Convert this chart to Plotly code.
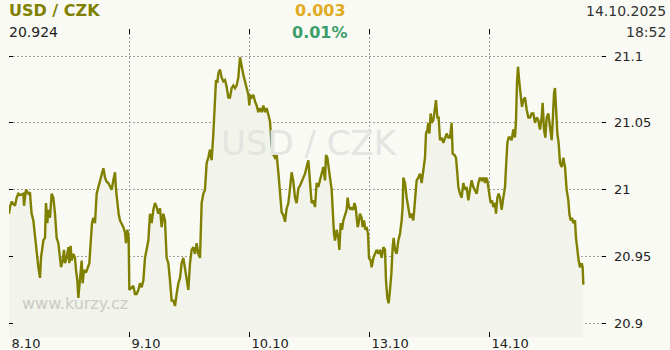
import plotly.graph_objects as go

# hours since 8.10 00:00 (trading days only, 24 h per day)
hours = [
 0, 0.2, 0.53, 1.2, 1.53, 1.87, 2.2, 2.87, 3.0, 3.4, 3.87, 4.2, 4.33, 4.53, 4.87, 5.2, 5.4, 5.67, 5.87, 6.2,
 6.4, 6.67, 6.87, 7.2, 7.4, 7.67, 7.87, 8.2, 8.53, 8.87, 9.2, 9.53, 9.87, 10.2, 10.4, 10.73, 11.0, 11.2, 11.53, 11.87,
 12.07, 12.33, 12.53, 12.87, 13.2, 13.4, 13.67, 13.87, 14.2, 14.53, 14.73, 15.0, 15.4, 15.67, 16.07, 16.33, 16.6, 16.87, 17.2, 17.53,
 17.87, 18.2, 18.53, 18.87, 19.2, 19.53, 19.87, 20.2, 20.53, 20.87, 21.2, 21.4, 21.67, 21.93, 22.2, 22.53, 22.87, 23.2, 23.4, 23.67,
 23.93, 24.07, 24.53, 24.87, 25.2, 25.53, 25.87, 26.2, 26.53, 26.87, 27.2, 27.53, 27.87, 28.2, 28.53, 28.87, 29.2, 29.53, 29.87, 30.2,
 30.53, 30.87, 31.2, 31.53, 31.87, 32.2, 32.53, 32.87, 33.2, 33.53, 33.87, 34.2, 34.53, 34.87, 35.2, 35.53, 35.87, 36.2, 36.53, 36.87,
 37.2, 37.53, 37.87, 38.2, 38.53, 38.87, 39.2, 39.53, 39.87, 40.2, 40.53, 40.87, 41.07, 41.4, 41.67, 41.87, 42.2, 42.53, 42.87, 43.2,
 43.53, 43.87, 44.2, 44.53, 44.87, 45.2, 45.53, 45.87, 46.2, 46.53, 46.87, 47.2, 47.53, 47.87, 48.07, 48.2, 48.53, 48.87, 49.2, 49.53,
 49.87, 50.2, 50.53, 50.87, 51.2, 51.53, 51.87, 52.2, 52.53, 52.87, 53.2, 53.53, 53.87, 54.2, 54.53, 54.87, 55.2, 55.53, 55.87, 56.2,
 56.53, 56.87, 57.2, 57.53, 57.87, 58.2, 59.2, 59.53, 59.87, 60.07, 60.33, 60.53, 60.87, 61.2, 61.53, 61.87, 62.2, 62.53, 62.87, 63.2,
 63.4, 63.67, 63.87, 64.2, 64.53, 64.73, 65.0, 65.2, 65.53, 65.87, 66.07, 66.33, 66.6, 66.87, 67.2, 67.53, 67.73, 68.0, 68.33, 68.53,
 68.87, 69.07, 69.33, 69.53, 69.73, 69.93, 70.2, 70.53, 70.73, 71.0, 71.27, 71.53, 71.8, 72.0, 72.33, 72.53, 72.87, 73.2, 73.53, 73.87,
 74.2, 74.53, 74.87, 75.2, 75.4, 75.67, 75.93, 76.2, 76.47, 76.73, 76.93, 77.2, 77.53, 77.87, 78.2, 78.53, 78.73, 78.87, 79.2, 79.53,
 79.87, 80.2, 80.53, 80.87, 81.2, 81.53, 81.87, 82.2, 82.53, 82.87, 83.2, 83.4, 83.67, 83.87, 84.07, 84.33, 84.53, 84.87, 85.2, 85.4,
 85.67, 85.93, 86.2, 86.53, 86.87, 87.2, 87.53, 87.87, 88.2, 88.53, 88.73, 89.07, 89.4, 89.67, 89.87, 90.2, 90.53, 90.87, 91.2, 91.53,
 91.87, 92.2, 92.53, 92.87, 93.2, 93.53, 93.87, 94.2, 94.53, 94.87, 95.2, 95.4, 95.67, 95.93, 96.07, 96.33, 96.6, 96.87, 97.2, 97.4,
 97.67, 97.93, 98.2, 98.53, 98.87, 99.2, 99.4, 99.67, 99.93, 100.2, 100.53, 100.87, 101.2, 101.4, 101.6, 101.8, 102.07, 102.33, 102.6, 102.87,
 103.2, 103.53, 103.87, 104.2, 104.53, 104.87, 105.2, 105.53, 105.87, 106.2, 106.53, 106.73, 107.0, 107.27, 107.53, 107.87, 108.2, 108.53, 108.73, 109.0,
 109.2, 109.4, 109.67, 109.93, 110.2, 110.53, 110.87, 111.2, 111.53, 111.87, 112.07, 112.33, 112.6, 112.87, 113.2, 113.4, 113.67, 113.93, 114.2, 114.53,
 114.73, 114.87,
]

rates = [
 20.982, 20.987, 20.991, 20.988, 20.994, 20.997, 20.996, 20.997, 20.988, 21.000, 20.997, 20.998, 20.991, 20.982, 20.977, 20.967, 20.960, 20.949, 20.942, 20.934,
 20.949, 20.957, 20.962, 20.964, 20.990, 20.975, 20.985, 20.979, 20.997, 20.994, 20.982, 20.964, 20.960, 20.949, 20.942, 20.947, 20.955, 20.945, 20.949, 20.957,
 20.945, 20.958, 20.947, 20.952, 20.949, 20.940, 20.932, 20.919, 20.937, 20.947, 20.930, 20.940, 20.938, 20.941, 20.945, 20.960, 20.975, 20.979, 20.975, 20.997,
 21.002, 21.006, 21.012, 21.016, 21.009, 21.006, 21.005, 21.002, 21.000, 21.007, 21.013, 21.000, 20.990, 20.982, 20.977, 20.975, 20.972, 20.968, 20.960, 20.970,
 20.964, 20.925, 20.927, 20.928, 20.922, 20.922, 20.925, 20.930, 20.927, 20.932, 20.949, 20.957, 20.962, 20.982, 20.975, 20.985, 20.990, 20.987, 20.982, 20.986,
 20.972, 20.982, 20.977, 20.949, 20.945, 20.932, 20.917, 20.917, 20.913, 20.922, 20.930, 20.934, 20.945, 20.949, 20.940, 20.934, 20.925, 20.945, 20.955, 20.957,
 20.952, 20.960, 20.952, 20.949, 20.990, 20.997, 21.000, 21.020, 21.024, 21.030, 21.022, 21.042, 21.054, 21.082, 21.080, 21.087, 21.090, 21.084, 21.081, 21.082,
 21.077, 21.069, 21.069, 21.076, 21.078, 21.076, 21.078, 21.084, 21.099, 21.091, 21.086, 21.081, 21.076, 21.071, 21.063, 21.071, 21.069, 21.071, 21.066, 21.063,
 21.058, 21.061, 21.058, 21.063, 21.058, 21.061, 21.056, 21.051, 21.033, 21.026, 21.024, 21.026, 21.013, 20.994, 20.983, 20.981, 20.976, 20.986, 20.990, 21.001,
 21.013, 21.006, 20.994, 20.990, 21.001, 21.003, 21.012, 21.017, 21.022, 21.012, 21.002, 20.990, 20.992, 20.987, 21.005, 21.002, 21.007, 21.012, 21.017, 21.007,
 21.026, 21.024, 21.017, 21.009, 21.000, 20.982, 20.967, 20.962, 20.970, 20.964, 20.955, 20.975, 20.970, 20.977, 20.982, 20.985, 20.994, 20.987, 20.985, 20.987,
 20.985, 20.990, 20.987, 20.979, 20.972, 20.975, 20.982, 20.979, 20.972, 20.977, 20.970, 20.972, 20.967, 20.949, 20.947, 20.942, 20.949, 20.952, 20.955, 20.952,
 20.955, 20.949, 20.957, 20.955, 20.932, 20.919, 20.915, 20.925, 20.937, 20.957, 20.964, 20.955, 20.952, 20.962, 20.967, 20.977, 20.987, 21.009, 21.005, 20.994,
 20.987, 20.979, 20.982, 20.977, 20.992, 21.007, 21.009, 21.012, 21.005, 21.017, 21.024, 21.042, 21.045, 21.050, 21.042, 21.057, 21.050, 21.052, 21.065, 21.067,
 21.054, 21.054, 21.037, 21.039, 21.035, 21.039, 21.042, 21.039, 21.039, 21.050, 21.027, 21.026, 21.024, 21.012, 21.002, 20.997, 20.994, 21.005, 21.000, 21.002,
 20.992, 21.000, 21.007, 21.002, 21.000, 20.997, 21.005, 21.009, 21.007, 21.009, 21.005, 21.009, 21.007, 21.000, 20.994, 20.990, 20.992, 20.987, 20.990, 20.982,
 20.994, 20.997, 20.994, 20.985, 20.994, 21.002, 21.017, 21.035, 21.039, 21.039, 21.037, 21.045, 21.039, 21.052, 21.080, 21.092, 21.080, 21.072, 21.062, 21.067,
 21.069, 21.060, 21.054, 21.054, 21.057, 21.057, 21.050, 21.054, 21.052, 21.045, 21.054, 21.065, 21.045, 21.039, 21.054, 21.057, 21.047, 21.037, 21.050, 21.072,
 21.076, 21.057, 21.042, 21.035, 21.020, 21.017, 21.024, 21.017, 21.000, 20.992, 20.982, 20.977, 20.979, 20.975, 20.977, 20.964, 20.952, 20.947, 20.942, 20.945,
 20.942, 20.929,
]

day_ticks = [0, 24, 48, 72, 96]
day_labels = ["8.10", "9.10", "10.10", "13.10", "14.10"]
rate_ticks = [20.9, 20.95, 21.0, 21.05, 21.1]
rate_labels = ["20.9", "20.95", "21", "21.05", "21.1"]

pair = "USD / CZK"
last_rate = "20.924"
change_abs = "0.003"
change_pct = "0.01%"
date_txt = "14.10.2025"
time_txt = "18:52"

OLIVE = "#808000"
BG = "#f9faf4"
FILL = "#f2f3ea"
FONT = "DejaVu Sans"

fig = go.Figure()
fig.add_trace(go.Scatter(
    x=hours, y=rates, mode="lines",
    line=dict(color=OLIVE, width=2.4),
    fill="tozeroy", fillcolor=FILL,
    hoverinfo="skip",
))

fig.update_layout(
    width=670, height=350,
    margin=dict(l=9, r=64, t=29, b=13, autoexpand=False),
    paper_bgcolor=BG, plot_bgcolor=BG,
    showlegend=False,
    font=dict(family=FONT, size=13, color="#222222"),
    xaxis=dict(
        range=[0, 119.4], tickvals=day_ticks, ticktext=day_labels,
        ticks="inside", ticklen=5, tickcolor="#000000", tickwidth=1,
        mirror="ticks", showline=False, zeroline=False, automargin=False,
        showgrid=True, gridcolor="#a0a0a0", gridwidth=1, griddash="2px,2px",
        ticklabelposition="outside right", ticklabelstandoff=-3, ticklabelshift=2,
        tickfont=dict(family=FONT, size=13, color="#222222"),
    ),
    yaxis=dict(
        range=[20.8898, 21.1202], side="right",
        tickvals=rate_ticks, ticktext=rate_labels,
        ticks="inside", ticklen=4, tickcolor="#000000", tickwidth=1,
        mirror="ticks", showline=False, zeroline=False, automargin=False,
        showgrid=True, gridcolor="#a0a0a0", gridwidth=1, griddash="2px,2px",
        tickfont=dict(family=FONT, size=13, color="#222222"),
        ticklabelstandoff=7,
    ),
)

anns = [
    dict(text="<b>%s</b>" % pair, x=-0.003, y=1.059, xanchor="left",
         font=dict(size=16, color=OLIVE)),
    dict(text=last_rate, x=-0.003, y=0.989, xanchor="left",
         font=dict(size=14, color="#222222")),
    dict(text="<b>%s</b>" % change_abs, x=0.521, y=1.059, xanchor="center",
         font=dict(size=16, color="#e2aa22")),
    dict(text="<b>%s</b>" % change_pct, x=0.521, y=0.989, xanchor="center",
         font=dict(size=16, color="#3c9e6c")),
    dict(text=date_txt, x=1.1039, y=1.059, xanchor="right",
         font=dict(size=14, color="#333333")),
    dict(text=time_txt, x=1.1039, y=0.989, xanchor="right",
         font=dict(size=14, color="#333333")),
    dict(text=pair, x=0.504, y=0.630, xanchor="center",
         font=dict(size=34, color="#e4e4e1")),
    dict(text="www.kurzy.cz", x=0.019, y=0.110, xanchor="left",
         font=dict(size=16, color="#cbcbc8")),
]
for a in anns:
    a.update(xref="paper", yref="paper", yanchor="middle", showarrow=False)
    a["font"]["family"] = FONT
fig.update_layout(annotations=anns)

fig.write_html("out.html")
